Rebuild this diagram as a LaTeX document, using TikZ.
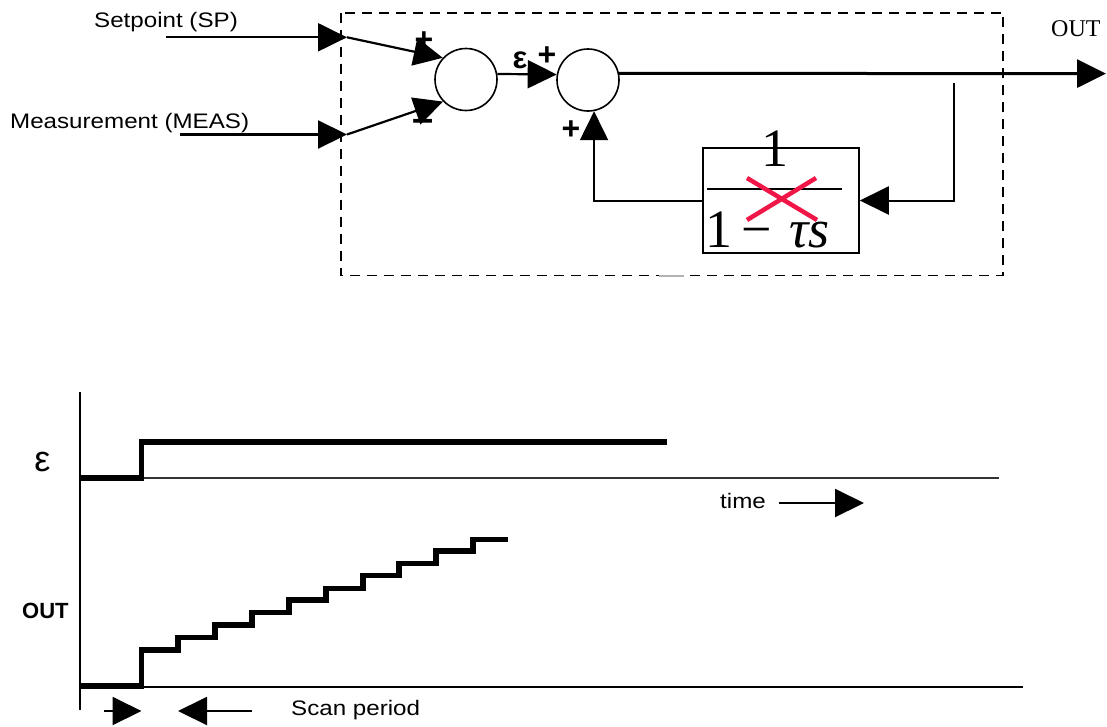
\documentclass[tikz,border=0pt]{standalone}
\usepackage{fontspec}
\setmainfont{Liberation Serif}
\setsansfont{Liberation Sans}
\usepackage{graphicx}
\usetikzlibrary{arrows.meta}
\definecolor{xred}{RGB}{240,22,72}
\newcommand\hstretch[1]{\scalebox{1.15}[1]{#1}}
\tikzset{
  lbl/.style={font=\sffamily\fontsize{21}{21}\selectfont, inner sep=0pt, anchor=base west},
  sign/.style={font=\sffamily\bfseries\fontsize{32}{32}\selectfont, inner sep=0pt},
  sumnode/.style={circle, draw, line width=1.6pt, minimum size=62pt, inner sep=0pt},
  blocknode/.style={rectangle, draw, line width=1.5pt, minimum width=156pt, minimum height=105pt, inner sep=0pt},
  conn/.style={line width=2.2pt, -{Triangle[length=29pt,width=28pt]}},
  fb/.style={line width=2pt, -{Triangle[length=29pt,width=28pt]}},
  thick plot/.style={line width=5.4pt, line join=miter},
}
\begin{document}
\begin{tikzpicture}[x=1pt, y=-1pt]
\useasboundingbox (0,0) rectangle (1107,726);

% ---------- block diagram ----------
\draw[line width=1.8pt, dash pattern=on 10pt off 7pt] (341,12.7) rectangle (1003,275.5);
\draw[line width=2pt, gray!60] (659,275.5) -- (684,275.5);

\node[lbl] (splbl) at (94,27.7) {\hstretch{Setpoint (SP)}};
\node[lbl] (measlbl) at (10,128) {\hstretch{Measurement (MEAS)}};

\node[sumnode] (sum1) at (466,79.5) {};
\node[sumnode] (sum2) at (588,80) {};
\node[blocknode] (block) at (781,200.5) {};

\coordinate (spA) at (166,37.3);
\coordinate (spB) at (347,37.3);
\coordinate (meA) at (180,134.5);
\coordinate (meB) at (347,134.5);
\coordinate (outE) at (1106,73.6);
\coordinate (brT) at (954,83);

\draw[conn] (spA) -- (spB);
\draw[conn] (spB) -- (sum1.137);
\draw[conn] (meA) -- (meB);
\draw[conn] (meB) -- (sum1.224);
\draw[conn] (sum1.10) -- (sum2.170);
\draw[conn, line width=3pt] (sum2.12) -- (outE);
\draw[fb] (brT) |- (block.east);
\draw[fb] (block.west) -| (sum2.-79);

\node[sign] (pl1) at (424,41) {+};
\node[font=\sffamily\bfseries\fontsize{38}{38}\selectfont, inner sep=0pt] (mi1) at (423,125) {\textendash};
\node[font=\sffamily\bfseries\fontsize{31}{31}\selectfont, inner sep=0pt] (eps1) at (520,60) {ε};
\node[sign] (pl2) at (547,56) {+};
\node[sign] (pl3) at (571,130) {+};

\node[font=\rmfamily\fontsize{24}{24}\selectfont, inner sep=0pt, anchor=base west] (outlbl) at (1051,36) {OUT};

% transfer function
\node[font=\rmfamily\fontsize{54}{54}\selectfont, inner sep=0pt] (num) at (775,149) {1};
\draw[line width=1.5pt] (707,189) -- (842,189);
\node[font=\rmfamily\fontsize{54}{54}\selectfont, inner sep=0pt, anchor=base west] (den) at (705,247) {1\,−\,\,\textit{τs}};
\draw[xred, line width=4.5pt] (747,178) -- (817,220);
\draw[xred, line width=4.5pt] (816,178) -- (747,220);

% ---------- time plots ----------
\draw[line width=1.8pt] (80,392) -- (80,710);
\draw[line width=1.5pt, black!80] (80,478) -- (999,478);
\draw[line width=2.5pt] (80,687) -- (1023,687);

\draw[thick plot, line width=5.6pt] (80,478) -- (141.5,478) -- (141.5,442) -- (667,442);
\draw[thick plot] (80,686) -- (141.5,686) -- (141.5,650) -- (178,650) -- (178,637.3)
  -- (215,637.3) -- (215,625) -- (252,625) -- (252,612.3) -- (289,612.3) -- (289,600)
  -- (326,600) -- (326,588.3) -- (363,588.3) -- (363,575.7) -- (399,575.7) -- (399,563.3)
  -- (436,563.3) -- (436,551) -- (473,551) -- (473,539.3) -- (508,539.3);

\node[font=\sffamily\fontsize{36}{36}\selectfont, inner sep=0pt] (epsB) at (42.5,462) {ε};
\node[font=\sffamily\bfseries\fontsize{22}{22}\selectfont, inner sep=0pt, anchor=base west] (outB) at (22,618) {OUT};

\node[lbl] (timelbl) at (720,508) {\hstretch{time}};
\coordinate (tA) at (779,503);
\coordinate (tB) at (864,503);
\draw[fb] (tA) -- (tB);

\node[lbl] (scanlbl) at (291,715) {\hstretch{Scan period}};
\coordinate (s1A) at (104,711);
\coordinate (s1B) at (141.5,711);
\coordinate (s2A) at (252,711);
\coordinate (s2B) at (178,711);
\draw[fb] (s1A) -- (s1B);
\draw[fb] (s2A) -- (s2B);
\end{tikzpicture}
\end{document}
